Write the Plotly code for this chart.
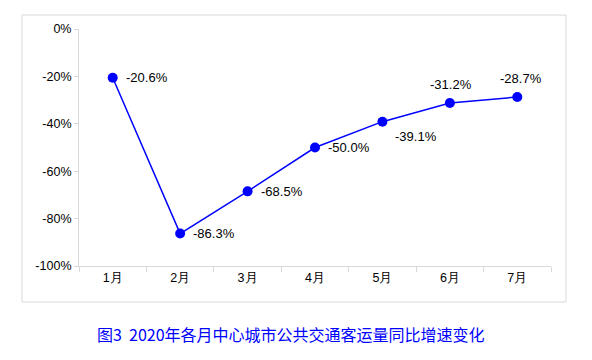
import plotly.graph_objects as go

months = ["1月", "2月", "3月", "4月", "5月", "6月", "7月"]
growth = [-20.6, -86.3, -68.5, -50.0, -39.1, -31.2, -28.7]
label_pos = ["middle right", "middle right", "middle right", "middle right",
             "bottom right", "top center", "top center"]
yticks = [0, -20, -40, -60, -80, -100]
title_text = "图3  2020年各月中心城市公共交通客运量同比增速变化"

fig = go.Figure()
fig.add_trace(go.Scatter(
    x=months, y=growth, mode="lines+markers",
    line=dict(color="#0000FF", width=1.5),
    marker=dict(color="#0000FF", size=10),
    showlegend=False, hoverinfo="skip",
))

# data labels
for i, (m, v, p) in enumerate(zip(months, growth, label_pos)):
    txt = f"{v:.1f}%"
    if p == "middle right":
        fig.add_annotation(x=m, y=v, text=txt, showarrow=False, xanchor="left",
                           yanchor="middle", xshift=11)
    elif p == "bottom right":
        fig.add_annotation(x=m, y=v, text=txt, showarrow=False, xanchor="left",
                           yanchor="top", xshift=11, yshift=-5)
    else:
        fig.add_annotation(x=m, y=v, text=txt, showarrow=False, xanchor="center",
                           yanchor="bottom", xshift=4 if i == 6 else 1, yshift=9)

fig.update_annotations(font=dict(family="Liberation Sans, Arial", size=13, color="#000000"))

fig.add_annotation(text=title_text, xref="paper", yref="paper", x=0.450, y=-0.285,
                   xanchor="center", yanchor="middle", showarrow=False,
                   font=dict(family="Noto Sans CJK SC", size=16, color="#0000FF"))

# outer chart border
fig.add_shape(type="rect", xref="paper", yref="paper",
              x0=-0.1208, x1=1.0318, y0=-0.152, y1=1.059,
              line=dict(color="#D9D9D9", width=1), layer="below")

fig.update_xaxes(
    type="category", range=[-0.5, 6.5], showgrid=False,
    showline=True, linecolor="#D9D9D9", linewidth=1,
    ticks="outside", tickson="boundaries", ticklen=5, tickcolor="#D9D9D9",
    tickfont=dict(family="Liberation Sans, Arial", size=12.5, color="#000000"),
    zeroline=False,
)
fig.update_yaxes(
    range=[-100, 0], tickvals=yticks, ticktext=[f"{t}%" for t in yticks],
    showgrid=False, showline=True, linecolor="#D9D9D9", linewidth=1,
    ticks="outside", ticklen=4, tickcolor="#D9D9D9",
    tickfont=dict(family="Liberation Sans, Arial", size=12.5, color="#000000"),
    zeroline=False,
)

fig.update_layout(
    width=592, height=360,
    margin=dict(l=71, r=49, t=21, b=102),
    paper_bgcolor="white", plot_bgcolor="white",
)

fig.write_html("out.html")
